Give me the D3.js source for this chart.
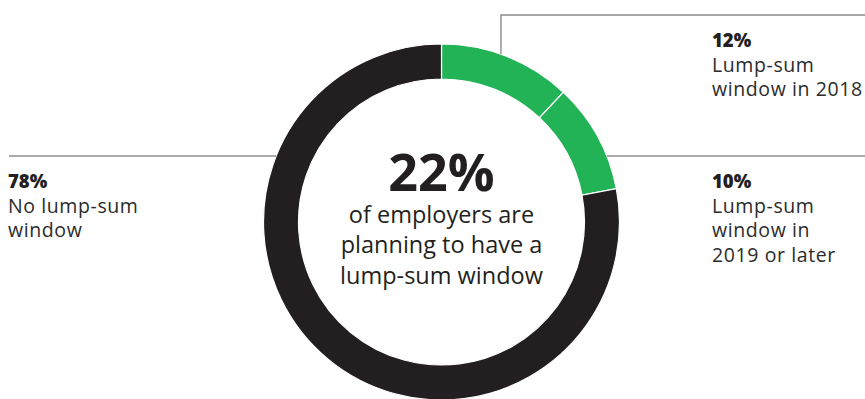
<!DOCTYPE html>
<html>
<head>
<meta charset="utf-8">
<script src="https://cdn.jsdelivr.net/npm/d3@7"></script>
<style>
  html, body { margin: 0; padding: 0; background: #fff; }
  svg { display: block; }
  text { font-family: "Open Sans", "Noto Sans", sans-serif; fill: #231f20; }
</style>
</head>
<body>
<svg id="chart" width="865" height="399"></svg>
<script>
// Share of employers by lump-sum window plans (percent)
const categories = ["Lump-sum window in 2018", "Lump-sum window in 2019 or later", "No lump-sum window"];
const values = [12, 10, 78];
const valueLabels = ["12%", "10%", "78%"];
const labelLines = [["Lump-sum", "window in 2018"], ["Lump-sum", "window in", "2019 or later"], ["No lump-sum", "window"]];
const colors = ["#22b357", "#22b357", "#231f20"];
const centerValue = "22%";
const centerLines = ["of employers are", "planning to have a", "lump-sum window"];

const W = 865, H = 399;
const cx = 441.5, cy = 222;
const rOuter = 178, rInner = 143;

const svg = d3.select("#chart");
const g = svg.append("g").attr("transform", `translate(${cx},${cy})`);

const pie = d3.pie().sort(null).value(d => d);
const arcs = pie(values);
const arc = d3.arc().innerRadius(rInner).outerRadius(rOuter);

g.selectAll("path.slice")
  .data(arcs)
  .join("path")
  .attr("class", "slice")
  .attr("d", arc)
  .attr("fill", (d, i) => colors[i])
  .attr("stroke", "#fff")
  .attr("stroke-width", 1.2);

// Leader lines
const lineColor = "#8c8c8c";
const edgeX = y => Math.sqrt(rOuter * rOuter - (y - cy) * (y - cy));
const leaders = svg.append("g")
  .attr("fill", "none")
  .attr("stroke", lineColor)
  .attr("stroke-width", 1.4);

// 2018 slice: vertical drop from a horizontal rule at the top
const topY = 15, topX = 501;
const topEndY = cy - Math.sqrt(rOuter * rOuter - (topX - cx) * (topX - cx));
leaders.append("path").attr("d", `M${topX},${topEndY}V${topY}H${W}`);
// 2019+ slice
const midY = 156;
leaders.append("path").attr("d", `M${cx + edgeX(midY)},${midY}H${W}`);
// no-window slice
leaders.append("path").attr("d", `M9,${midY}H${cx - edgeX(midY)}`);

// Side labels
const labelPos = [
  { x: 712, y: 47 },
  { x: 712, y: 188 },
  { x: 8, y: 188 }
];
const lh = 24.6;
labelPos.forEach((p, i) => {
  const t = svg.append("text").attr("x", p.x).attr("y", p.y);
  t.append("tspan").attr("x", p.x).attr("dy", 0)
    .attr("font-weight", 800).attr("font-size", 18.5).text(valueLabels[i]);
  labelLines[i].forEach(line => {
    t.append("tspan").attr("x", p.x).attr("dy", lh)
      .attr("font-size", 19.5).attr("letter-spacing", 0.6)
      .attr("fill", "#2b2b2b").text(line);
  });
});

// Center label
svg.append("text")
  .attr("x", cx).attr("y", 191)
  .attr("text-anchor", "middle")
  .attr("font-weight", 700)
  .attr("font-size", 52)
  .text(centerValue);

const ct = svg.append("text")
  .attr("x", cx).attr("y", 223)
  .attr("text-anchor", "middle")
  .attr("font-size", 23.5)
  .attr("fill", "#2b2b2b");
centerLines.forEach((line, i) => {
  ct.append("tspan").attr("x", cx).attr("dy", i === 0 ? 0 : 30.3).text(line);
});
</script>
</body>
</html>
